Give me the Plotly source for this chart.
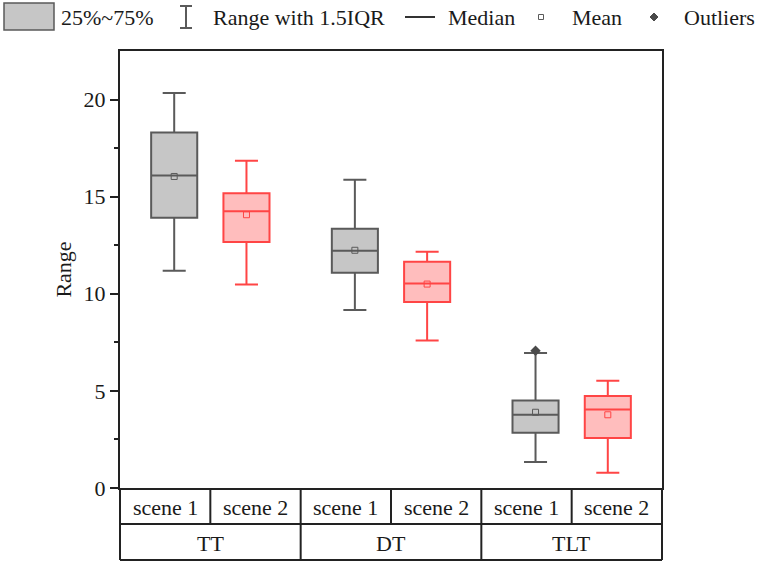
import plotly.graph_objects as go

# ---------------- data ----------------
groups = ["TT", "DT", "TLT"]
scenes = ["scene 1", "scene 2"]
q1 = [13.92, 12.66, 11.08, 9.58, 2.85, 2.58]
median = [16.09, 14.25, 12.22, 10.53, 3.77, 4.04]
q3 = [18.31, 15.18, 13.35, 11.65, 4.51, 4.74]
lower = [11.18, 10.48, 9.17, 7.60, 1.34, 0.79]
upper = [20.34, 16.85, 15.87, 12.16, 6.95, 5.52]
means = [16.04, 14.07, 12.24, 10.50, 3.90, 3.77]
outlier_box = [4]          # index of box having outliers
outlier_vals = [7.07]
yticks = [0, 5, 10, 15, 20]

# ---------------- style ----------------
FONT = "Liberation Serif"
FS = 22
TXT = "#1a1a1a"
LINE_COLORS = ["#5a5a5a", "#ff4545"]
FILL_COLORS = ["#c6c6c6", "#ffbdbd"]

W, H = 757, 566
L, R, T, B = 120, 662, 51, 488


def xp(px):
    return (px - L) / (R - L)


def yp(py):
    return (B - py) / (B - T)


fig = go.Figure()

positions = []
for gi, g in enumerate(groups):
    for si, s in enumerate(scenes):
        positions.append(2 * gi + 1 + (-0.4 if si == 0 else 0.4))

for i, xpos in enumerate(positions):
    si = i % 2
    fig.add_trace(go.Box(
        x=[xpos], q1=[q1[i]], median=[median[i]], q3=[q3[i]],
        lowerfence=[lower[i]], upperfence=[upper[i]],
        width=0.51, whiskerwidth=0.5,
        fillcolor=FILL_COLORS[si],
        line=dict(color=LINE_COLORS[si], width=2),
        boxpoints=False, showlegend=False, hoverinfo="skip",
    ))
    fig.add_trace(go.Scatter(
        x=[xpos], y=[means[i]], mode="markers",
        marker=dict(symbol="square-open", size=6, color=LINE_COLORS[si],
                    line=dict(width=1, color=LINE_COLORS[si])),
        showlegend=False, hoverinfo="skip",
    ))

for bi, v in zip(outlier_box, outlier_vals):
    fig.add_trace(go.Scatter(
        x=[positions[bi]], y=[v], mode="markers",
        marker=dict(symbol="diamond", size=8, color="#4a4a4a"),
        showlegend=False, hoverinfo="skip", cliponaxis=False,
    ))

shapes = []
line_style = dict(color="#222222", width=2)
# table horizontal lines
for py in (524, 560):
    shapes.append(dict(type="line", xref="paper", yref="paper",
                       x0=0, x1=1, y0=yp(py), y1=yp(py), line=line_style))
# table outer verticals
for xx in (0, 1):
    shapes.append(dict(type="line", xref="paper", yref="paper",
                       x0=xx, x1=xx, y0=yp(488), y1=yp(560), line=line_style))
# row 1 dividers
for k in range(1, 6):
    shapes.append(dict(type="line", xref="paper", yref="paper",
                       x0=k / 6, x1=k / 6, y0=yp(488), y1=yp(524), line=line_style))
# row 2 dividers
for k in (1, 2):
    shapes.append(dict(type="line", xref="paper", yref="paper",
                       x0=k / 3, x1=k / 3, y0=yp(524), y1=yp(560), line=line_style))

annotations = []
for i in range(6):
    annotations.append(dict(x=(i + 0.5) / 6, y=yp(507), xref="paper", yref="paper",
                            xanchor="center", yanchor="middle",
                            text=scenes[i % 2], showarrow=False,
                            font=dict(family=FONT, size=FS, color=TXT)))
for gi, g in enumerate(groups):
    annotations.append(dict(x=(gi + 0.5) / 3, y=yp(543), xref="paper", yref="paper",
                            xanchor="center", yanchor="middle",
                            text=g, showarrow=False,
                            font=dict(family=FONT, size=FS, color=TXT)))

# ---------------- custom legend ----------------
gray_l, gray_f = LINE_COLORS[0], FILL_COLORS[0]
ly = 17
shapes.append(dict(type="rect", xref="paper", yref="paper",
                   x0=xp(4), x1=xp(54), y0=yp(3), y1=yp(30),
                   fillcolor=gray_f, line=dict(color=gray_l, width=1.5)))
# I-beam
shapes.append(dict(type="line", xref="paper", yref="paper",
                   x0=xp(186), x1=xp(186), y0=yp(6), y1=yp(28),
                   line=dict(color=gray_l, width=2)))
for yy in (6, 28):
    shapes.append(dict(type="line", xref="paper", yref="paper",
                       x0=xp(180), x1=xp(192), y0=yp(yy), y1=yp(yy),
                       line=dict(color=gray_l, width=2)))
# median line
shapes.append(dict(type="line", xref="paper", yref="paper",
                   x0=xp(405), x1=xp(435), y0=yp(ly), y1=yp(ly),
                   line=dict(color="#333333", width=2)))
# mean square
shapes.append(dict(type="rect", xref="paper", yref="paper",
                   x0=xp(538.5), x1=xp(543.5), y0=yp(14.5), y1=yp(19.5),
                   fillcolor="white", line=dict(color=gray_l, width=1)))
# outlier diamond
cx, cy, r = 654, ly, 4
shapes.append(dict(type="path", xref="paper", yref="paper",
                   path=f"M {xp(cx)} {yp(cy - r)} L {xp(cx + r)} {yp(cy)} L {xp(cx)} {yp(cy + r)} L {xp(cx - r)} {yp(cy)} Z",
                   fillcolor="#4a4a4a", line=dict(color="#4a4a4a", width=1)))

legend_texts = [("25%~75%", 59), ("Range with 1.5IQR", 211), ("Median", 446),
                ("Mean", 570), ("Outliers", 682)]
for t, x0 in legend_texts:
    annotations.append(dict(x=xp(x0), y=yp(ly), xref="paper", yref="paper",
                            xanchor="left", yanchor="middle", text=t, showarrow=False,
                            font=dict(family=FONT, size=FS, color=TXT)))

fig.update_layout(
    width=W, height=H,
    margin=dict(l=L, r=W - R, t=T, b=H - B, pad=0),
    paper_bgcolor="white", plot_bgcolor="white",
    font=dict(family=FONT, size=FS, color=TXT),
    showlegend=False,
    shapes=shapes, annotations=annotations,
    xaxis=dict(range=[0, 6], showgrid=False, zeroline=False, showticklabels=False,
               ticks="", showline=True, mirror=True, linecolor="#222222", linewidth=2,
               fixedrange=True),
    yaxis=dict(range=[0, 22.5], tickvals=yticks, ticktext=[str(v) for v in yticks],
               showgrid=False, zeroline=False, ticks="outside", ticklen=8,
               tickwidth=1.5, tickcolor="#222222",
               minor=dict(tickvals=[2.5, 7.5, 12.5, 17.5], ticks="outside", ticklen=4,
                          tickwidth=1.5, tickcolor="#222222", showgrid=False),
               showline=True, mirror=True, linecolor="#222222", linewidth=2,
               title=dict(text="Range", standoff=6,
                          font=dict(family=FONT, size=FS, color=TXT)),
               tickfont=dict(family=FONT, size=FS, color=TXT),
               fixedrange=True),
)

fig.write_html("out.html")
